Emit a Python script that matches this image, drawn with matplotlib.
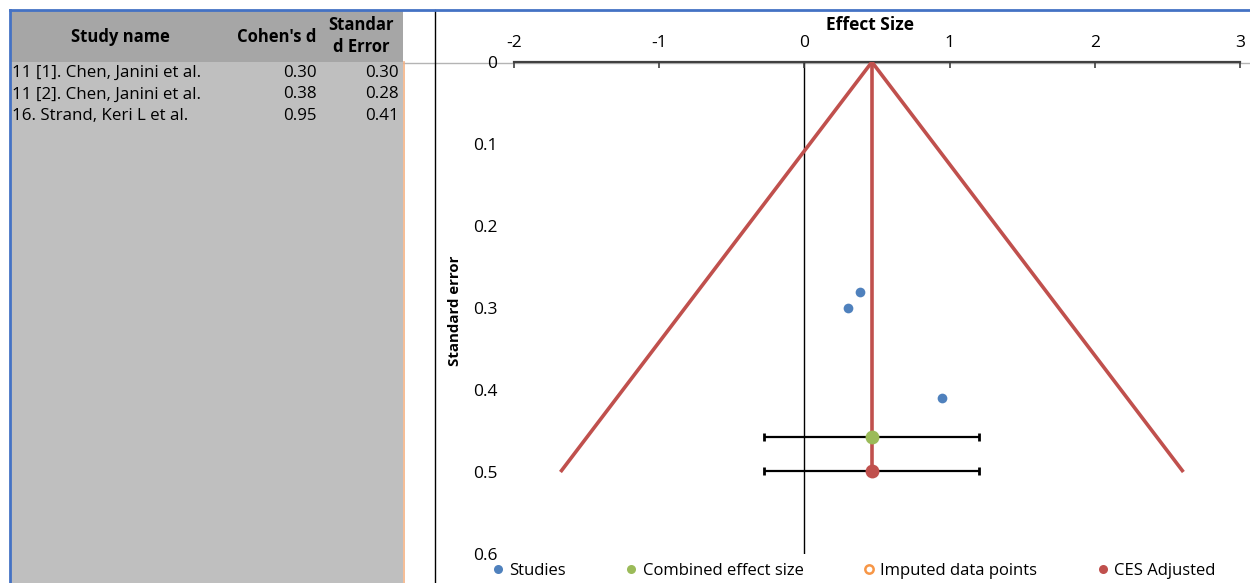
import matplotlib
matplotlib.use("Agg")
import matplotlib.pyplot as plt
from matplotlib.lines import Line2D
from matplotlib.patches import Rectangle

plt.rcParams['font.family'] = ['Open Sans', 'DejaVu Sans']

# ---------------- data ----------------
study_names = ["11 [1]. Chen, Janini et al.", "11 [2]. Chen, Janini et al.", "16. Strand, Keri L et al."]
cohens_d = [0.30, 0.38, 0.95]
std_err = [0.30, 0.28, 0.41]

combined_es = 0.465
combined_y = 0.457
ces_adjusted = 0.465
ces_adjusted_y = 0.499
ci_low = -0.28
ci_high = 1.205

funnel_x = [-1.68, 0.465, 2.61]
funnel_y = [0.5, 0.0, 0.5]
center_x = [0.465, 0.465]
center_y = [0.0, 0.5]

x_ticks = [-2, -1, 0, 1, 2, 3]
y_ticks = [0, 0.1, 0.2, 0.3, 0.4, 0.5, 0.6]
y_tick_labels = ["0", "0.1", "0.2", "0.3", "0.4", "0.5", "0.6"]

# ---------------- figure ----------------
W, H = 1250, 583
fig = plt.figure(figsize=(W / 100, H / 100), dpi=100)

# decoration overlay in pixel coordinates
bg = fig.add_axes([0, 0, 1, 1], zorder=0)
bg.set_xlim(0, W)
bg.set_ylim(H, 0)
bg.axis("off")
bg.add_patch(Rectangle((10, 10), 393, 52, color="#a6a6a6", lw=0))
bg.add_patch(Rectangle((10, 62), 393, H - 62, color="#bfbfbf", lw=0))
bg.plot([403, W], [62.5, 62.5], color="#b4b4b4", lw=1)
bg.plot([403.5, 403.5], [62, H], color="#f4b183", lw=1.2)
bg.plot([434.5, 434.5], [10, H], color="black", lw=1)
bg.plot([10, W], [10, 10], color="#4472c4", lw=2)
bg.plot([10, 10], [10, H], color="#4472c4", lw=2)

# table text
tfs = 12.2
hfs = 12
bg.text(120, 37, "Study name", ha="center", va="center", fontsize=hfs, fontweight="bold")
bg.text(316, 37, "Cohen's d", ha="right", va="center", fontsize=hfs, fontweight="bold")
bg.text(361, 25, "Standar", ha="center", va="center", fontsize=hfs, fontweight="bold")
bg.text(361, 47, "d Error", ha="center", va="center", fontsize=hfs, fontweight="bold")
row_y0, row_dy = 73, 21.5
for i, (n, d, s) in enumerate(zip(study_names, cohens_d, std_err)):
    yy = row_y0 + i * row_dy
    bg.text(12, yy, n, ha="left", va="center", fontsize=tfs)
    bg.text(317, yy, f"{d:.2f}", ha="right", va="center", fontsize=tfs)
    bg.text(399, yy, f"{s:.2f}", ha="right", va="center", fontsize=tfs)

# main chart axes
left, right = 514, 1240
top, bottom = 62, 554
ax = fig.add_axes([left / W, 1 - bottom / H, (right - left) / W, (bottom - top) / H], zorder=2)
ax.patch.set_alpha(0)
ax.set_xlim(-2, 3)
ax.set_ylim(0.6, 0)

red = "#c0504d"
ax.plot(funnel_x, funnel_y, color=red, lw=2.6, solid_capstyle="butt", zorder=3)
ax.plot(center_x, center_y, color=red, lw=2.6, zorder=3)
ax.axvline(0, color="black", lw=1, zorder=1)

ax.errorbar([combined_es], [combined_y], xerr=[[combined_es - ci_low], [ci_high - combined_es]],
            fmt="none", ecolor="black", elinewidth=1.6, capsize=3, capthick=2, zorder=4)
ax.errorbar([ces_adjusted], [ces_adjusted_y], xerr=[[ces_adjusted - ci_low], [ci_high - ces_adjusted]],
            fmt="none", ecolor="black", elinewidth=1.6, capsize=3, capthick=2, zorder=4)

ax.plot(cohens_d, std_err, "o", color="#4f81bd", ms=7, mec="none", zorder=5)
ax.plot([combined_es], [combined_y], "o", color="#9bbb59", ms=10, mec="none", zorder=5)
ax.plot([ces_adjusted], [ces_adjusted_y], "o", color=red, ms=10, mec="none", zorder=5)

h_st = Line2D([], [], marker="o", ls="none", color="#4f81bd", mec="none", ms=6.5, label="Studies")
h_ce = Line2D([], [], marker="o", ls="none", color="#9bbb59", mec="none", ms=6.5, label="Combined effect size")
h_im = Line2D([], [], marker="o", ls="none", mfc="white", mec="#f79646", mew=1.8, ms=6,
              label="Imputed data points")
h_ca = Line2D([], [], marker="o", ls="none", color=red, mec="none", ms=6.5, label="CES Adjusted")

# axes styling
for s in ["left", "right", "bottom"]:
    ax.spines[s].set_visible(False)
ax.spines["top"].set_color("#404040")
ax.spines["top"].set_linewidth(1.6)
ax.xaxis.tick_top()
ax.set_xticks(x_ticks)
ax.set_xticklabels([str(t) for t in x_ticks])
ax.tick_params(axis="x", direction="in", length=4, width=1.2, color="#404040", labelsize=12.5, pad=8)
ax.set_yticks(y_ticks)
ax.set_yticklabels(y_tick_labels)
ax.tick_params(axis="y", length=0, labelsize=12.5, pad=12)
fig.text(870 / W, 1 - 25 / H, "Effect Size", ha="center", va="center",
         fontsize=12.5, fontweight="bold")
fig.text(455 / W, 1 - 311 / H, "Standard error", rotation=90, ha="center", va="center",
         fontsize=10.8, fontweight="bold")

fig.legend(handles=[h_st, h_ce, h_im, h_ca], loc="center left", bbox_to_anchor=(492 / W, 1 - 571 / H),
           ncol=4, frameon=False, fontsize=12, handletextpad=0.33, columnspacing=3.58,
           handlelength=0.7, borderpad=0, borderaxespad=0)

fig.savefig("out.png", dpi=100)
